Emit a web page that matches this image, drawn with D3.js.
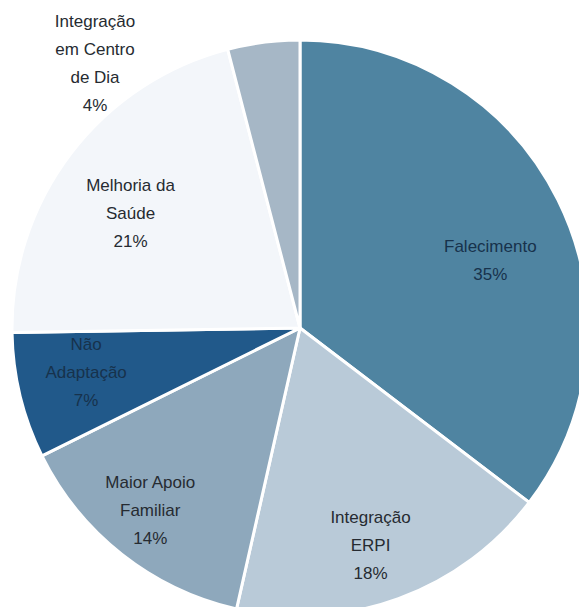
<!DOCTYPE html>
<html>
<head>
<meta charset="utf-8">
<script src="https://cdn.jsdelivr.net/npm/d3@7"></script>
<style>
  html, body { margin: 0; padding: 0; background: #ffffff; }
  svg { display: block; }
</style>
</head>
<body>
<svg id="chart" width="579" height="607"></svg>
<script>
// Motivos de saída — distribuição percentual
const categories = [
  ["Falecimento"],
  ["Integração", "ERPI"],
  ["Maior Apoio", "Familiar"],
  ["Não", "Adaptação"],
  ["Melhoria da", "Saúde"],
  ["Integração", "em Centro", "de Dia"]
];
const values = [35, 18, 14, 7, 21, 4];
const colors = ["#4f84a1", "#b9cad8", "#8ea8bc", "#21598a", "#f3f6fa", "#a6b7c6"];

const svg = d3.select("#chart");
const cx = 300, cy = 328, R = 288;

const g = svg.append("g").attr("transform", `translate(${cx},${cy})`);

const pie = d3.pie().sort(null).value(d => d.value);
const data = categories.map((c, i) => ({ lines: c, value: values[i], color: colors[i] }));
const arcs = pie(data);

const arc = d3.arc().innerRadius(0).outerRadius(R);
const labelArc = d3.arc().innerRadius(218).outerRadius(218);

g.selectAll("path.slice")
  .data(arcs)
  .join("path")
  .attr("class", "slice")
  .attr("d", arc)
  .attr("fill", d => d.data.color)
  .attr("stroke", "#ffffff")
  .attr("stroke-width", 3)
  .attr("stroke-linejoin", "round");

// label placement tweaks around each slice's centroid
const nudge = [[-5, 29], [-4, 12], [-15, 11], [-2, -7], [4, 17]];
const lineH = 28;
const fmt = d => `${d.data.value}%`;

arcs.forEach((d, i) => {
  const lines = d.data.lines.concat([fmt(d)]);
  let x, y;
  if (i === arcs.length - 1) {
    // small slice: label sits outside, to the left of the slice
    x = -205; y = -265;
  } else {
    const c = labelArc.centroid(d);
    x = c[0] + nudge[i][0];
    y = c[1] + nudge[i][1];
  }
  const top = y - (lines.length - 1) * lineH / 2;
  const t = g.append("text")
    .attr("text-anchor", "middle")
    .attr("font-family", "'Liberation Sans', Arial, sans-serif")
    .attr("font-size", 17)
    .attr("fill", i === 0 || i === 3 ? "#17324c" : "#262b31");
  lines.forEach((ln, k) => {
    t.append("tspan")
      .attr("x", x)
      .attr("y", top + k * lineH)
      .attr("dy", "0.35em")
      .text(ln);
  });
});
</script>
</body>
</html>
